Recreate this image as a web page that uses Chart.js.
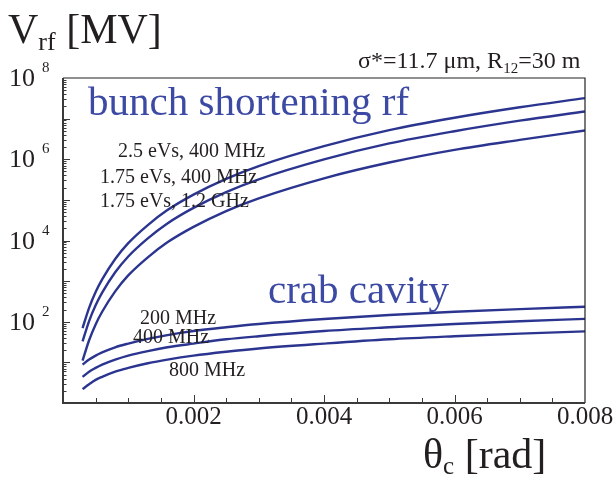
<!DOCTYPE html>
<html lang="en">
<head>
  <meta charset="UTF-8" />
  <title>Vrf vs crossing angle</title>
  <script src="https://cdn.jsdelivr.net/npm/chart.js"></script>
  <style>
    body {
      margin: 0;
      background: #fff;
    }

    #wrap {
      width: 614px;
      height: 478px;
      position: relative;
    }
  </style>
</head>
<body>
  <div id="wrap">
    <canvas id="vrfChart"></canvas>
  </div>

  <script>
    // crossing angle theta_c [rad]
    const theta = [0.0003, 0.0004, 0.0005, 0.0006, 0.0008, 0.001, 0.0013, 0.0016,
                   0.002, 0.0025, 0.003, 0.004, 0.005, 0.006, 0.007, 0.008];

    // bunch shortening rf [MV]
    const bs25_400 = [70, 220, 540, 1100, 3500, 8600, 24000, 56000,
                      135000, 330000, 680000, 2.1e6, 5.2e6, 1.05e7, 1.9e7, 3.2e7];
    const bs175_400 = [33, 104, 254, 520, 1650, 4050, 11300, 26300,
                       63500, 155000, 320000, 990000, 2.45e6, 4.9e6, 8.9e6, 1.5e7];
    const bs175_1200 = [11, 35, 86, 176, 560, 1380, 3840, 9000,
                        21600, 53000, 109000, 340000, 830000, 1.7e6, 3.0e6, 5.1e6];

    // crab cavity [MV]
    const crab200 = [8.8, 11.7, 14.7, 17.6, 23.5, 29, 38, 47, 59, 73, 88, 117, 147, 176, 205, 235];
    const crab400 = [4.4, 5.9, 7.3, 8.8, 11.7, 14.7, 19, 23.5, 29, 37, 44, 59, 73, 88, 103, 118];
    const crab800 = [2.2, 2.9, 3.7, 4.4, 5.9, 7.3, 9.5, 11.7, 14.7, 18.3, 22, 29, 37, 44, 51, 58];

    const xTickLabels = ['0.002', '0.004', '0.006', '0.008'];
    const yTickExps = [2, 4, 6, 8];

    const LINE = '#2b3590';
    const BLUE_TEXT = '#3d4aa4';
    const INK = '#231f20';
    const SERIF = '"Liberation Serif", "DejaVu Serif", serif';

    const series = [bs25_400, bs175_400, bs175_1200, crab200, crab400, crab800];

    function toPoints(ys) {
      return theta.map((t, i) => ({ x: t, y: ys[i] }));
    }

    function sub(ctx, x, y, main, subTxt, size, subSize, drop) {
      ctx.font = size + 'px ' + SERIF;
      ctx.fillText(main, x, y);
      x += ctx.measureText(main).width;
      ctx.font = subSize + 'px ' + SERIF;
      ctx.fillText(subTxt, x, y + drop);
      return x + ctx.measureText(subTxt).width;
    }

    const decorations = {
      id: 'decorations',
      afterDraw(chart) {
        const ctx = chart.ctx;
        const a = chart.chartArea;
        const xs = chart.scales.x;
        const ys = chart.scales.y;
        ctx.save();

        // frame: top/right thin, left/bottom heavier
        ctx.strokeStyle = '#222';
        ctx.lineWidth = 1.2;
        ctx.beginPath();
        ctx.moveTo(a.left, a.top);
        ctx.lineTo(a.right, a.top);
        ctx.lineTo(a.right, a.bottom);
        ctx.stroke();
        ctx.strokeStyle = '#3a3a3a';
        ctx.lineWidth = 2;
        ctx.beginPath();
        ctx.moveTo(a.left, a.top);
        ctx.lineTo(a.left, a.bottom);
        ctx.lineTo(a.right, a.bottom);
        ctx.stroke();

        // x ticks, pointing inward
        ctx.lineWidth = 1;
        ctx.beginPath();
        for (let k = 1; k < 16; k++) {
          const px = Math.round(xs.getPixelForValue(k * 0.0005)) + 0.5;
          const len = k % 4 === 0 ? 8 : 5;
          ctx.moveTo(px, a.bottom);
          ctx.lineTo(px, a.bottom - len);
        }
        // y ticks, log minors
        for (let e = 0; e < 8; e++) {
          for (let m = 1; m <= 9; m++) {
            const v = m * Math.pow(10, e);
            if (v <= 1) continue;
            const py = Math.round(ys.getPixelForValue(v)) + 0.5;
            const len = m === 1 ? 7 : 3.5;
            ctx.moveTo(a.left, py);
            ctx.lineTo(a.left + len, py);
          }
        }
        ctx.stroke();

        ctx.fillStyle = INK;
        ctx.textBaseline = 'alphabetic';

        // x tick labels
        ctx.font = '25px ' + SERIF;
        ctx.textAlign = 'center';
        xTickLabels.forEach(l => {
          ctx.fillText(l, xs.getPixelForValue(parseFloat(l)), 424);
        });

        // y tick labels 10^n
        yTickExps.forEach(e => {
          const py = ys.getPixelForValue(Math.pow(10, e));
          ctx.textAlign = 'right';
          ctx.font = '26px ' + SERIF;
          ctx.fillText('10', 35, py + 8);
          ctx.textAlign = 'left';
          ctx.font = '15px ' + SERIF;
          ctx.fillText(String(e), 42, py - 6);
        });

        // axis titles
        ctx.textAlign = 'left';
        let x = sub(ctx, 8, 43, 'V', 'rf', 42, 26, 7);
        ctx.font = '42px ' + SERIF;
        ctx.fillText(' [MV]', x, 43);

        x = sub(ctx, 423, 468, '\u03b8', 'c', 42, 25, 6);
        ctx.font = '42px ' + SERIF;
        ctx.fillText(' [rad]', x, 468);

        x = sub(ctx, 358, 68, '\u03c3*=11.7 \u03bcm, R', '12', 24, 15, 5);
        ctx.font = '24px ' + SERIF;
        ctx.fillText('=30 m', x, 68);

        // in-plot annotations
        ctx.fillStyle = BLUE_TEXT;
        ctx.font = '41px ' + SERIF;
        ctx.fillText('bunch shortening rf', 88, 115);
        ctx.fillText('crab cavity', 268, 303);

        ctx.fillStyle = INK;
        ctx.font = '20px ' + SERIF;
        ctx.fillText('2.5 eVs, 400 MHz', 118, 157);
        ctx.fillText('1.75 eVs, 400 MHz', 100, 183);
        ctx.fillText('1.75 eVs, 1.2 GHz', 100, 207);
        ctx.fillText('200 MHz', 140, 324);
        ctx.fillText('400 MHz', 133, 343);
        ctx.fillText('800 MHz', 169, 376);

        ctx.restore();
      }
    };

    const ctx = document.getElementById('vrfChart').getContext('2d');
    new Chart(ctx, {
      type: 'line',
      data: {
        datasets: series.map(s => ({
          data: toPoints(s),
          borderColor: LINE,
          borderWidth: 2.4,
          pointRadius: 0,
          fill: false,
          cubicInterpolationMode: 'monotone'
        }))
      },
      options: {
        responsive: true,
        maintainAspectRatio: false,
        animation: false,
        layout: {
          padding: { left: 63, right: 29, top: 78, bottom: 75 }
        },
        scales: {
          x: { type: 'linear', min: 0, max: 0.008, display: false },
          y: { type: 'logarithmic', min: 1, max: 1e8, display: false }
        },
        plugins: {
          legend: { display: false },
          tooltip: { enabled: false }
        }
      },
      plugins: [decorations]
    });
  </script>
</body>
</html>
